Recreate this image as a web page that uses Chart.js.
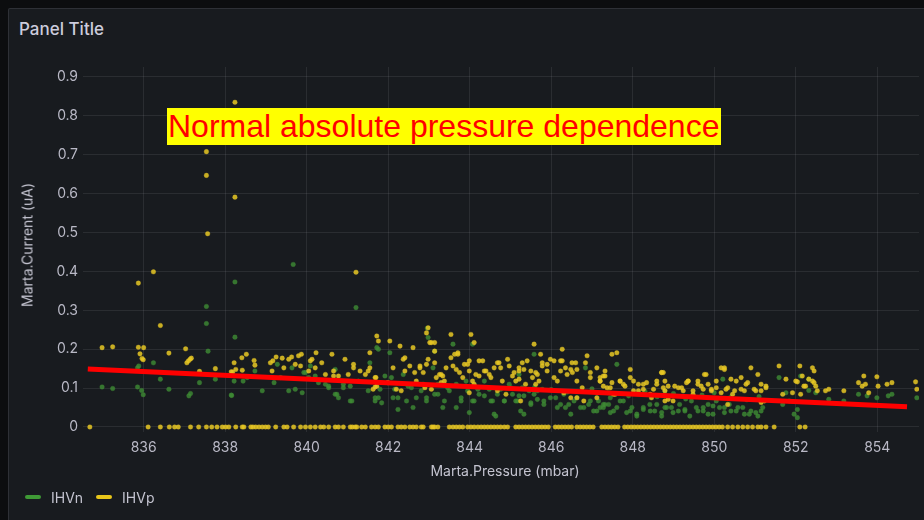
<!DOCTYPE html>
<html>
<head>
<meta charset="utf-8">
<script src="https://cdn.jsdelivr.net/npm/chart.js@4.4.1/dist/chart.umd.min.js"></script>
<style>
    html, body { margin: 0; padding: 0; }
    body { width: 924px; height: 520px; background: #0c0d0f; overflow: hidden; position: relative; font-family: 'Inter', 'Roboto', sans-serif; }
    .panel { position: absolute; left: 8px; top: 8px; width: 940px; height: 530px; background: #181b1f; border: 1px solid rgba(204,204,220,0.12); border-radius: 2px; }
    .title { position: absolute; left: 19px; top: 19px; font-size: 17px; font-weight: 500; color: #ccccdc; }
    .ytitle { position: absolute; left: 27px; top: 245px; transform: translate(-50%, -50%) rotate(-90deg); font-size: 14px; color: #c4c4d0; white-space: nowrap; }
    .xtitle { position: absolute; left: 505px; top: 470px; transform: translate(-50%, -50%); font-size: 14px; color: #c4c4d0; white-space: nowrap; }
    .legend { position: absolute; left: 25px; top: 487px; font-size: 14px; color: #c4c4d0; display: flex; align-items: center; height: 20px; }
    .legend .item { display: flex; align-items: center; margin-right: 13px; }
    .legend .mark { width: 16px; height: 4px; border-radius: 2px; margin-right: 10px; }
    .note { position: absolute; left: 167px; top: 108px; height: 37px; line-height: 37px; padding: 0 2px 0 1px; background: #ffff00; color: #ff0000; font-family: 'Liberation Sans', Arial, sans-serif; font-size: 32px; white-space: nowrap; }
    canvas { position: absolute; left: 0; top: 0; }
</style>
</head>
<body>
<div class="panel"></div>
<div class="title">Panel Title</div>
<canvas id="chart" width="924" height="520"></canvas>
<div class="ytitle">Marta.Current (uA)</div>
<div class="xtitle">Marta.Pressure (mbar)</div>
<div class="legend">
    <div class="item"><span class="mark" style="background:#3f9a36"></span>IHVn</div>
    <div class="item"><span class="mark" style="background:#e8c61a"></span>IHVp</div>
</div>
<div class="note">Normal absolute pressure dependence</div>
<script>
// tick labels
const xTicks = [836, 838, 840, 842, 844, 846, 848, 850, 852, 854];
const yTicks = [0, 0.1, 0.2, 0.3, 0.4, 0.5, 0.6, 0.7, 0.8, 0.9];

// IHVn: [pressure mbar, current uA]
const ihvn = [
    [834.98, 0.103], [835.24, 0.099], [835.88, 0.157], [835.85, 0.152], [835.85, 0.103], [835.95, 0.094], [835.99, 0.083],
    [836.24, 0.165], [836.41, 0.123], [836.62, 0.097], [837.11, 0.080], [837.15, 0.086], [837.54, 0.310], [837.54, 0.266],
    [837.58, 0.195], [837.37, 0.114], [837.76, 0.123], [838.15, 0.082], [838.24, 0.373], [838.24, 0.231], [839.67, 0.418],
    [841.21, 0.307], [838.22, 0.118], [838.16, 0.081], [838.73, 0.144], [838.54, 0.127], [838.44, 0.118], [838.91, 0.093],
    [839.28, 0.161], [839.36, 0.127], [839.20, 0.114], [839.56, 0.093], [839.72, 0.097], [839.89, 0.088], [839.64, 0.152],
    [839.97, 0.140], [840.09, 0.157], [840.21, 0.131], [840.46, 0.110], [840.54, 0.101], [840.70, 0.084], [840.78, 0.075],
    [840.70, 0.148], [840.90, 0.110], [841.07, 0.105], [841.11, 0.067], [841.55, 0.165], [841.68, 0.067], [841.72, 0.204],
    [841.76, 0.200], [841.68, 0.075], [841.80, 0.097], [841.84, 0.062], [842.04, 0.191], [842.08, 0.127], [842.12, 0.075],
    [842.24, 0.045], [842.37, 0.135], [842.45, 0.067], [842.57, 0.101], [842.69, 0.075], [842.86, 0.110], [842.94, 0.075],
    [842.96, 0.254], [842.98, 0.230], [843.14, 0.195], [843.10, 0.152], [843.22, 0.084], [843.34, 0.050], [843.46, 0.101],
    [843.59, 0.213], [843.67, 0.110], [843.79, 0.067], [843.91, 0.118], [843.99, 0.037], [844.07, 0.213], [844.11, 0.067],
    [844.23, 0.084], [844.36, 0.118], [844.48, 0.097], [844.56, 0.067], [844.64, 0.028], [844.76, 0.097], [844.85, 0.067],
    [844.97, 0.110], [845.05, 0.084], [845.13, 0.067], [845.21, 0.080], [845.21, 0.135], [845.29, 0.101], [845.46, 0.093],
    [845.58, 0.084], [845.66, 0.071], [845.78, 0.097], [845.50, 0.058], [845.33, 0.033], [845.25, 0.041], [845.82, 0.058],
    [845.58, 0.187], [846.11, 0.075], [846.23, 0.058], [846.35, 0.050], [846.56, 0.067], [846.48, 0.033], [846.72, 0.050],
    [846.84, 0.152], [846.92, 0.058], [847.04, 0.041], [847.20, 0.050], [847.32, 0.058], [847.45, 0.037], [847.61, 0.050],
    [847.61, 0.161], [847.77, 0.067], [847.94, 0.041], [848.10, 0.028], [848.26, 0.050], [848.43, 0.041], [848.59, 0.058],
    [848.71, 0.037], [848.79, 0.050], [848.79, 0.093], [848.95, 0.050], [849.12, 0.041], [849.28, 0.045], [849.44, 0.067],
    [849.60, 0.041], [849.73, 0.050], [849.85, 0.033], [849.97, 0.054], [850.05, 0.067], [850.21, 0.123], [850.25, 0.050],
    [850.41, 0.041], [850.58, 0.050], [850.74, 0.033], [850.90, 0.041], [851.07, 0.028], [851.15, 0.041], [851.59, 0.127],
    [851.76, 0.088], [851.84, 0.067], [851.96, 0.033], [851.68, 0.058], [852.12, 0.131], [852.32, 0.123], [852.32, 0.094],
    [852.49, 0.088], [852.81, 0.071], [853.18, 0.067], [853.54, 0.084], [853.75, 0.080], [853.99, 0.075], [854.27, 0.080],
    [854.36, 0.084], [854.97, 0.075], [852.04, 0.045], [852.04, 0.024],
    [839.93, 0.140], [840.05, 0.127], [840.29, 0.114], [840.54, 0.105], [840.74, 0.084], [840.90, 0.101], [841.07, 0.067],
    [841.27, 0.118], [841.51, 0.093], [841.76, 0.075], [841.92, 0.131], [842.16, 0.097], [842.24, 0.075], [842.49, 0.105],
    [842.61, 0.050], [842.81, 0.093], [842.94, 0.067], [843.14, 0.084], [843.22, 0.110], [843.38, 0.067], [843.50, 0.093],
    [843.67, 0.050], [843.79, 0.075], [843.95, 0.093], [844.07, 0.067], [844.20, 0.097], [844.36, 0.080], [844.52, 0.067],
    [844.60, 0.033], [844.68, 0.084], [844.85, 0.067], [845.01, 0.101], [845.17, 0.067], [845.33, 0.080], [845.50, 0.062],
    [845.66, 0.093], [845.82, 0.067], [845.98, 0.075], [846.15, 0.050], [846.31, 0.084], [846.43, 0.058], [846.63, 0.075],
    [846.80, 0.050], [846.96, 0.067], [847.12, 0.041], [847.28, 0.058], [847.45, 0.075],
    [847.16, 0.067], [847.28, 0.050], [847.41, 0.058], [847.53, 0.041], [847.69, 0.067], [847.85, 0.037], [847.98, 0.050],
    [848.10, 0.033], [848.26, 0.045], [848.42, 0.058], [848.54, 0.041], [848.71, 0.028], [848.83, 0.050], [848.99, 0.037],
    [849.15, 0.058], [849.28, 0.041], [849.40, 0.028], [849.56, 0.050], [849.73, 0.041], [849.85, 0.058], [849.97, 0.033],
    [850.13, 0.050], [850.25, 0.037], [850.37, 0.058], [850.54, 0.041], [850.70, 0.050], [850.86, 0.033], [851.02, 0.037],
    [851.19, 0.050], [847.00, 0.098], [847.40, 0.088], [847.90, 0.080], [848.30, 0.092], [848.60, 0.078], [849.00, 0.086],
    [849.30, 0.072], [849.70, 0.082], [850.00, 0.088], [850.40, 0.076], [850.80, 0.070], [851.10, 0.078], [846.40, 0.090],
    [846.00, 0.096], [845.60, 0.104]
];

// IHVp: [pressure mbar, current uA]
const ihvp = [
    [834.98, 0.204], [835.24, 0.206], [835.87, 0.205], [836.00, 0.204], [835.91, 0.188], [835.96, 0.176], [835.99, 0.173],
    [835.87, 0.370], [836.24, 0.399], [836.41, 0.261], [836.62, 0.190], [837.03, 0.201], [837.06, 0.165], [837.10, 0.170],
    [837.14, 0.174], [837.17, 0.177], [837.37, 0.143], [837.76, 0.150], [838.15, 0.142], [837.54, 0.708], [837.54, 0.647],
    [837.57, 0.497], [838.24, 0.835], [838.24, 0.591], [841.21, 0.398], [838.22, 0.165], [838.26, 0.148], [838.18, 0.141],
    [838.41, 0.178], [838.52, 0.187], [838.71, 0.171], [838.73, 0.159], [838.42, 0.146], [839.11, 0.165], [839.17, 0.170],
    [839.25, 0.180], [839.40, 0.177], [839.15, 0.144], [839.44, 0.152], [839.56, 0.174], [839.63, 0.180], [839.80, 0.183],
    [839.87, 0.187], [839.72, 0.161], [839.85, 0.157], [840.09, 0.170], [840.13, 0.174], [840.23, 0.191], [840.05, 0.144],
    [840.21, 0.152], [840.37, 0.165], [840.62, 0.187], [840.66, 0.131], [840.46, 0.135], [840.78, 0.131], [840.94, 0.174],
    [841.02, 0.135], [841.15, 0.152], [841.31, 0.144], [841.44, 0.135], [841.51, 0.144], [841.55, 0.191], [841.68, 0.127],
    [841.72, 0.234], [841.63, 0.097], [841.72, 0.105], [841.76, 0.221], [841.70, 0.127], [841.68, 0.103], [842.04, 0.221],
    [842.12, 0.152], [841.99, 0.114], [842.20, 0.097], [842.32, 0.093], [842.37, 0.174], [842.29, 0.208], [842.41, 0.144],
    [842.53, 0.157], [842.61, 0.204], [842.65, 0.140], [842.69, 0.118], [842.78, 0.157], [842.86, 0.140], [842.94, 0.242],
    [842.98, 0.255], [843.02, 0.217], [843.14, 0.217], [842.98, 0.174], [843.14, 0.165], [842.90, 0.101], [843.06, 0.097],
    [843.18, 0.127], [843.26, 0.135], [843.34, 0.131], [843.30, 0.114], [843.38, 0.118], [843.54, 0.238], [843.54, 0.178],
    [843.63, 0.187], [843.71, 0.187], [843.59, 0.157], [843.67, 0.148], [843.75, 0.140], [843.83, 0.127], [843.95, 0.161],
    [843.99, 0.144], [844.03, 0.238], [844.07, 0.118], [844.11, 0.110], [843.99, 0.088], [844.15, 0.135], [844.23, 0.131],
    [844.32, 0.170], [844.40, 0.144], [844.52, 0.127], [844.60, 0.152], [844.72, 0.165], [844.80, 0.118], [844.93, 0.174],
    [844.97, 0.157], [845.05, 0.131], [845.13, 0.118], [845.21, 0.144], [844.89, 0.084], [844.68, 0.093], [845.58, 0.213],
    [845.74, 0.187], [845.29, 0.165], [845.41, 0.170], [845.50, 0.144], [845.54, 0.127], [845.66, 0.135], [845.78, 0.157],
    [845.90, 0.161], [845.98, 0.174], [845.33, 0.148], [845.21, 0.123], [845.37, 0.110], [845.62, 0.110], [845.25, 0.067],
    [845.70, 0.118], [846.07, 0.127], [846.15, 0.118], [846.27, 0.200], [846.27, 0.170], [846.23, 0.144], [846.39, 0.135],
    [846.48, 0.148], [846.52, 0.140], [846.60, 0.165], [846.63, 0.118], [846.76, 0.101], [846.88, 0.183], [846.96, 0.127],
    [847.12, 0.152], [847.20, 0.118], [847.32, 0.131], [847.28, 0.105], [847.45, 0.101], [847.61, 0.191], [847.53, 0.084],
    [847.69, 0.118], [847.77, 0.110], [847.94, 0.148], [848.02, 0.118], [848.14, 0.093], [848.26, 0.110], [848.43, 0.084],
    [848.51, 0.097], [848.59, 0.110], [848.71, 0.140], [848.75, 0.101], [848.79, 0.067], [846.63, 0.075], [846.48, 0.075],
    [846.31, 0.088], [847.12, 0.075], [846.80, 0.067], [848.75, 0.140], [848.79, 0.118], [848.87, 0.071], [849.03, 0.105],
    [849.20, 0.101], [849.32, 0.114], [849.36, 0.118], [849.48, 0.093], [849.60, 0.118], [849.68, 0.105], [849.76, 0.135],
    [849.85, 0.110], [849.93, 0.097], [850.05, 0.101], [850.17, 0.152], [850.25, 0.148], [850.29, 0.097], [850.41, 0.123],
    [850.50, 0.093], [850.66, 0.127], [850.74, 0.093], [850.82, 0.114], [850.90, 0.152], [850.98, 0.097], [851.07, 0.135],
    [851.15, 0.093], [851.27, 0.105], [851.23, 0.067], [851.15, 0.063], [850.33, 0.058], [851.59, 0.157], [851.68, 0.084],
    [851.76, 0.123], [851.92, 0.088], [852.00, 0.118], [852.10, 0.157], [852.20, 0.105], [852.32, 0.123], [852.12, 0.084],
    [852.16, 0.131], [852.04, 0.116], [852.24, 0.105], [852.41, 0.152], [852.45, 0.144], [852.41, 0.118], [852.45, 0.114],
    [852.49, 0.105], [852.53, 0.093], [852.73, 0.093], [852.81, 0.097], [853.18, 0.093], [853.54, 0.114], [853.67, 0.131],
    [853.71, 0.110], [853.63, 0.105], [853.79, 0.088], [853.99, 0.129], [854.02, 0.105], [854.24, 0.110], [854.36, 0.114],
    [854.94, 0.116], [854.97, 0.097],
    [840.66, 0.144], [841.15, 0.161], [841.55, 0.152], [842.41, 0.178], [842.78, 0.152], [842.94, 0.161], [843.06, 0.217],
    [843.14, 0.195], [843.30, 0.135], [843.42, 0.152], [843.71, 0.191], [843.87, 0.161], [843.99, 0.170], [844.11, 0.217],
    [844.23, 0.170], [844.36, 0.144], [844.48, 0.135], [844.68, 0.165], [844.76, 0.152], [845.09, 0.140], [845.21, 0.152],
    [845.62, 0.140], [845.78, 0.165], [845.90, 0.144], [846.07, 0.170], [846.23, 0.170], [846.35, 0.152], [846.51, 0.165],
    [846.63, 0.148], [846.84, 0.165], [846.96, 0.140], [847.20, 0.127], [847.32, 0.144], [847.49, 0.187],
    [847.20, 0.118], [847.28, 0.131], [847.37, 0.101], [847.49, 0.114], [847.57, 0.084], [847.69, 0.118], [847.81, 0.105],
    [847.94, 0.127], [848.02, 0.093], [848.14, 0.110], [848.26, 0.097], [848.34, 0.114], [848.46, 0.075], [848.59, 0.118],
    [848.71, 0.140], [848.79, 0.093], [848.87, 0.105], [848.99, 0.067], [849.12, 0.101], [849.24, 0.093], [849.36, 0.118],
    [849.48, 0.084], [849.60, 0.110], [849.73, 0.097], [849.80, 0.135], [849.93, 0.093], [850.05, 0.118], [850.17, 0.088],
    [850.25, 0.152], [850.33, 0.101], [850.45, 0.084], [850.54, 0.118], [850.66, 0.097], [850.78, 0.110], [851.02, 0.093],
    [851.15, 0.110], [851.27, 0.101]
];

// IHVp readings sitting at zero current (pressure, mbar)
const ihvpZero = [
    834.68, 836.11, 836.41, 836.63, 836.76, 836.85, 837.15, 837.35, 837.54, 837.67, 837.80, 837.93, 838.01, 838.09,
    838.26, 838.42, 838.46, 838.63, 838.68, 838.75, 838.83, 838.91, 838.99, 839.06, 839.24, 839.44, 839.52, 839.68,
    839.85, 839.97, 840.09, 840.21, 840.34, 840.42, 840.54, 840.70, 840.78, 840.90, 841.07, 841.12, 841.19, 841.23,
    841.35, 841.44, 841.59, 841.68, 841.76, 841.92, 842.00, 842.08, 842.24, 842.32, 842.41, 842.53, 842.61, 842.69,
    842.81, 842.86, 843.06, 843.10, 843.14, 843.22, 843.50, 843.59, 843.67, 843.75, 843.83, 843.95, 844.03, 844.11,
    844.20, 844.28, 844.36, 844.44, 844.52, 844.60, 844.68, 844.76, 844.85, 844.93, 845.13, 845.21, 845.29, 845.37,
    845.45, 845.53, 845.61, 845.69, 845.77, 845.85, 845.93, 846.10, 846.18, 846.26, 846.34, 846.42, 846.50, 846.63,
    846.71, 846.79, 846.87, 846.95, 847.03, 847.24, 847.32, 847.40, 847.48, 847.56, 847.64, 847.80, 847.88, 847.96,
    848.04, 848.12, 848.20, 848.28, 848.36, 848.44, 848.52, 848.60, 848.68, 848.76, 848.84, 848.92, 849.00, 849.08,
    849.16, 849.24, 849.32, 849.40, 849.48, 849.56, 849.64, 849.72, 849.80, 849.88, 849.96, 850.04, 850.12, 850.20,
    850.33, 850.45, 850.58, 850.70, 850.82, 850.94, 851.07, 851.15, 851.27, 851.47, 852.10, 852.23
];

// hand drawn trend line
const trend = [[834.63, 0.149], [854.73, 0.052]];

const toPoints = arr => arr.map(p => ({ x: p[0], y: p[1] }));

const tickColor = '#b9b9c6';
const gridColor = 'rgba(204, 204, 220, 0.10)';

new Chart(document.getElementById('chart').getContext('2d'), {
    type: 'scatter',
    data: {
        datasets: [
            {
                label: 'trend',
                type: 'line',
                data: toPoints(trend),
                borderColor: '#ff0000',
                borderWidth: 5,
                pointRadius: 0,
                fill: false,
                order: 0
            },
            {
                label: 'IHVp',
                data: toPoints(ihvp).concat(ihvpZero.map(x => ({ x: x, y: 0 }))),
                backgroundColor: 'rgba(232, 200, 36, 0.85)',
                borderColor: 'rgba(232, 200, 36, 0.3)',
                borderWidth: 1,
                pointRadius: 2.3,
                order: 1
            },
            {
                label: 'IHVn',
                data: toPoints(ihvn),
                backgroundColor: 'rgba(62, 140, 52, 0.8)',
                borderColor: 'rgba(62, 140, 52, 0.3)',
                borderWidth: 1,
                pointRadius: 2.3,
                order: 2
            }
        ]
    },
    options: {
        responsive: false,
        animation: false,
        devicePixelRatio: 1,
        layout: { padding: { top: 67, left: 0, right: 0, bottom: 0 } },
        plugins: {
            legend: { display: false },
            tooltip: { enabled: false }
        },
        scales: {
            x: {
                type: 'linear',
                min: 834.512,
                max: 855.024,
                afterFit: scale => { scale.height = 88; },
                afterBuildTicks: scale => { scale.ticks = xTicks.map(v => ({ value: v })); },
                grid: { color: gridColor, drawTicks: false },
                border: { display: false },
                ticks: {
                    color: tickColor,
                    padding: 7,
                    maxRotation: 0,
                    font: { family: 'Inter', size: 14 },
                    callback: v => String(v)
                }
            },
            y: {
                type: 'linear',
                min: -0.0129,
                max: 0.9257,
                afterFit: scale => { scale.width = 83; },
                afterBuildTicks: scale => { scale.ticks = yTicks.map(v => ({ value: v })); },
                grid: { color: gridColor, drawTicks: false },
                border: { display: false },
                ticks: {
                    color: tickColor,
                    padding: 5,
                    font: { family: 'Inter', size: 14 },
                    callback: v => (v === 0 ? '0' : v.toFixed(1))
                }
            }
        }
    }
});
</script>
</body>
</html>
